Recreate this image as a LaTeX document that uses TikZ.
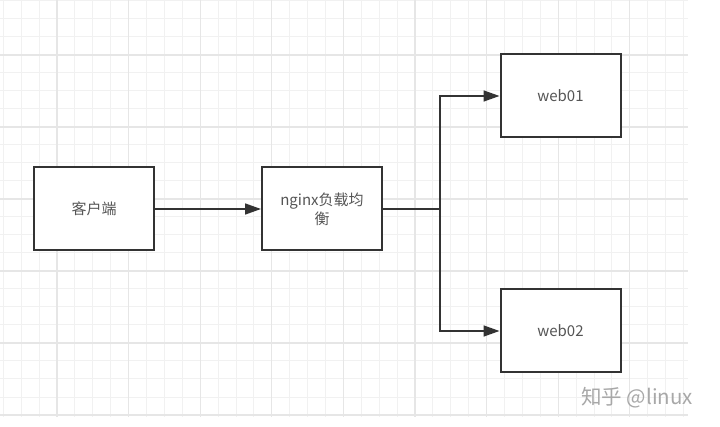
\documentclass[tikz,border=0pt]{standalone}
\usepackage{fontspec}
\setmainfont{Noto Sans CJK SC}
\usetikzlibrary{arrows.meta}
\definecolor{gridminor}{HTML}{F1F1F1}
\definecolor{gridmajor}{HTML}{E6E6E6}
\definecolor{boxline}{HTML}{333333}
\definecolor{boxtext}{HTML}{555555}
\definecolor{wmtext}{HTML}{A8A8A8}
\tikzset{
  minorline/.style={draw=gridminor, line width=1pt},
  majorline/.style={draw=gridmajor, line width=1.3pt},
  box/.style={draw=boxline, line width=2pt, fill=white, minimum width=120pt,
    minimum height=83pt, inner sep=0pt, text=boxtext,
    font=\fontsize{15}{19}\selectfont, align=center},
  conn/.style={draw=boxline, line width=1.6pt},
  arr/.style={-{Triangle[length=16pt,width=11pt]}}
}
\begin{document}
\begin{tikzpicture}[x=1pt,y=-1pt]
\fill[white] (0,0) rectangle (720,427);
\useasboundingbox (0,0) rectangle (720,427);
% grid
\foreach \i in {0,...,38} { \draw[minorline] ({3.3+17.9*\i},0) -- ({3.3+17.9*\i},417); }
\foreach \j in {0,...,23} { \draw[minorline] (0,{1+18*\j}) -- (688,{1+18*\j}); }
\foreach \i in {3,7,...,35} { \draw[majorline] ({3.3+17.9*\i},0) -- ({3.3+17.9*\i},417); }
\foreach \j in {3,7,...,23} { \draw[majorline] (0,{1+18*\j}) -- (688,{1+18*\j}); }
% nodes
\node[box] (client) at (94,209) {客户端};
\node[box] (nginx) at (322,209) {nginx负载均\\衡};
\node[box] (web1) at (560.5,96) {web01};
\node[box] (web2) at (560.5,331) {web02};
\coordinate (j) at (440,209);
% connectors
\draw[conn,arr] (client.east) -- (nginx.west);
\draw[conn] (nginx.east) -- (j);
\draw[conn,arr] (j) |- (web1.west);
\draw[conn,arr] (j) |- (web2.west);
% watermark
\node[text=wmtext, font=\fontsize{20.5}{20.5}\selectfont, anchor=west, inner sep=0pt] (wm) at (581,398) {知乎 @linux};
\end{tikzpicture}
\end{document}
